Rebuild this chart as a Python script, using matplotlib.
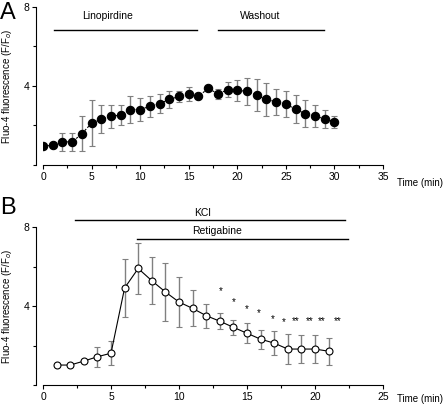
import matplotlib
matplotlib.use("Agg")
import matplotlib.pyplot as plt
from matplotlib.ticker import MultipleLocator

plt.rcParams['font.family'] = ['Liberation Sans', 'DejaVu Sans']

# Panel A: linopirdine
time_a = list(range(0, 31))
fluo_a = [0.95, 1.0, 1.17, 1.17, 1.58, 2.12, 2.31, 2.46, 2.53, 2.81, 2.81,
          2.97, 3.10, 3.32, 3.47, 3.59, 3.47, 3.88, 3.61, 3.80, 3.78,
          3.73, 3.54, 3.32, 3.20, 3.08, 2.83, 2.59, 2.47, 2.34, 2.19]
err_a = [0, 0, 0.45, 0.45, 0.89, 1.17, 0.71, 0.57, 0.53, 0.67, 0.59,
         0.54, 0.47, 0.44, 0.29, 0.35, 0, 0, 0.25, 0.38, 0.54,
         0.69, 0.82, 0.83, 0.65, 0.65, 0.69, 0.69, 0.57, 0.46, 0.31]

# Panel B: KCl + retigabine
time_b = list(range(1, 22))
fluo_b = [1.01, 1.01, 1.21, 1.43, 1.61, 4.91, 5.90, 5.28, 4.71, 4.20, 3.88,
          3.51, 3.23, 2.92, 2.62, 2.32, 2.12, 1.82, 1.82, 1.82, 1.71]
err_b = [0, 0, 0.05, 0.5, 0.6, 1.49, 1.31, 1.19, 1.49, 1.28, 0.91,
         0.6, 0.41, 0.39, 0.51, 0.49, 0.6, 0.78, 0.71, 0.71, 0.69]

star_x = [13.1, 14.0, 15.0, 15.9, 16.9, 17.7, 18.6, 19.6, 20.5, 21.7]
star_y = [4.77, 4.18, 3.85, 3.63, 3.36, 3.21, 3.24, 3.24, 3.24, 3.22]
star_txt = ['*', '*', '*', '*', '*', '*', '**', '**', '**', '**']

fig = plt.figure(figsize=(4.48, 4.04), dpi=100)
axA = fig.add_axes([43/448, 1-165/404, 340/448, 158/404])
axB = fig.add_axes([43/448, 1-385/404, 340/448, 158/404])


def style(ax, xmax, time_y):
    ax.set_ylim(0, 8)
    ax.set_xlim(0, xmax)
    ax.spines['top'].set_visible(False)
    ax.spines['right'].set_visible(False)
    ax.spines['left'].set_position(('outward', 5))
    ax.spines['left'].set_linewidth(0.8)
    ax.spines['bottom'].set_linewidth(0.8)
    ax.set_yticks([4, 8])
    ax.yaxis.set_minor_locator(MultipleLocator(2))
    ax.xaxis.set_major_locator(MultipleLocator(5))
    ax.xaxis.set_minor_locator(MultipleLocator(2.5))
    ax.tick_params(which='major', length=3, width=0.8, labelsize=7.5, pad=2)
    ax.tick_params(which='minor', length=2, width=0.8)
    ax.set_ylabel('Fluo-4 fluorescence (F/F$_o$)', fontsize=7)
    ax.yaxis.set_label_coords(-0.086, 0.5)
    ax.text(1.04, time_y, 'Time (min)', transform=ax.transAxes,
            fontsize=7, ha='left', va='center', clip_on=False)


def err_plot(ax, x, y, e, mfc, ms, ls):
    cont = ax.errorbar(x, y, yerr=e, fmt='o', ms=ms, mfc=mfc, mec='black',
                       mew=0.8, color='black', ecolor='#808080', elinewidth=1,
                       capsize=2.5, capthick=0.8, linestyle=ls, lw=0.8,
                       zorder=3)
    for cap in cont[1]:
        cap.set_color('black')
    return cont


# ---- A ----
style(axA, 35, -0.115)
err_plot(axA, time_a, fluo_a, err_a, 'black', 6, (0, (2, 1.5)))
axA.plot([1.1, 15.9], [6.85, 6.85], color='black', lw=1)
axA.plot([18, 28.95], [6.85, 6.85], color='black', lw=1)
axA.text(6.6, 7.55, 'Linopirdine', fontsize=7.5, ha='center', va='center')
axA.text(22.4, 7.55, 'Washout', fontsize=7.5, ha='center', va='center')
fig.text(0.0, 0.995, 'A', fontsize=17, ha='left', va='top')

# ---- B ----
style(axB, 25, -0.09)
err_plot(axB, time_b, fluo_b, err_b, 'white', 5, '-')
for sx, sy, st in zip(star_x, star_y, star_txt):
    axB.text(sx, sy, st, fontsize=7, ha='center', va='center')
axB.plot([2.37, 22.2], [8.34, 8.34], color='black', lw=1, clip_on=False)
axB.plot([6.9, 22.4], [7.41, 7.41], color='black', lw=1, clip_on=False)
axB.text(11.7, 8.72, 'KCl', fontsize=7.5, ha='center', va='center')
axB.text(12.8, 7.82, 'Retigabine', fontsize=7.5, ha='center', va='center')
fig.text(0.0, 1-197/404, 'B', fontsize=17, ha='left', va='top')

fig.savefig('out.png', dpi=100)
